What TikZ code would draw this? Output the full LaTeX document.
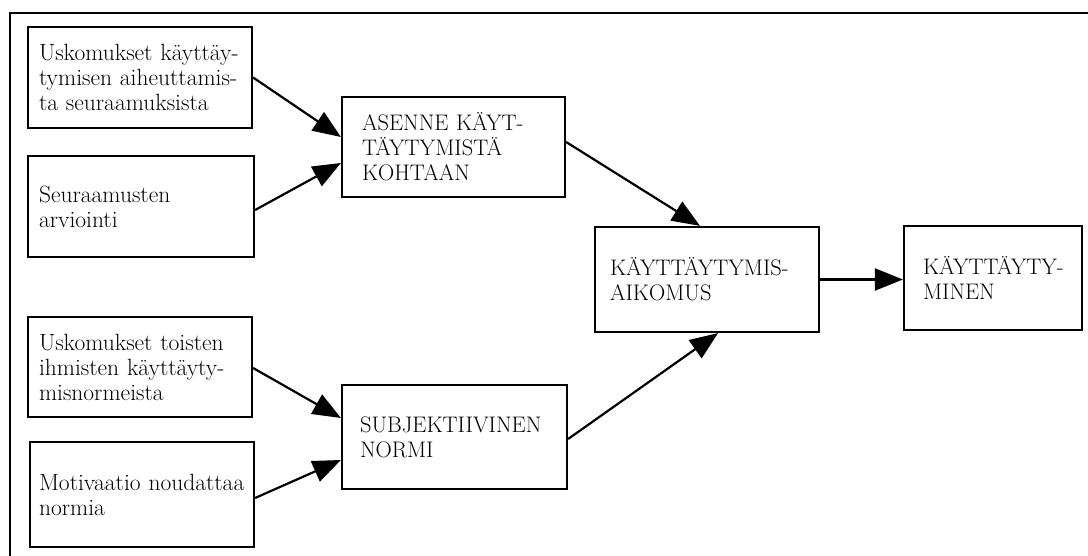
\documentclass[tikz,border=0pt]{standalone}
\usetikzlibrary{arrows.meta,calc}
\begin{document}
\begin{tikzpicture}[x=1pt,y=-1pt,
  box/.style={draw, line width=2.2pt, rectangle, align=left, inner ysep=0pt},
  lc/.style={box, font=\fontsize{23.5}{25}\selectfont},
  uc/.style={box, font=\fontsize{22.5}{25}\selectfont},
  arr/.style={line width=2.2pt, -{Triangle[length=28pt,width=22pt]}},
  frame/.style={line width=2.6pt}]
\useasboundingbox (0,0) rectangle (1088,556);
% outer frame (only top and left edges visible)
\coordinate (fbl) at (10,556);
\coordinate (ftl) at (10,13);
\coordinate (ftr) at (1088,13);
\draw[frame] (fbl) -- (ftl) -- (ftr);
% boxes
\node[lc, minimum width=224pt, minimum height=101pt, text width=202pt, inner xsep=11pt] (b1) at (140,77.5)
  {\mbox{Uskomukset käyttäy-}\\\mbox{tymisen aiheuttamis-}\\\mbox{ta seuraamuksista}};
\node[lc, minimum width=226pt, minimum height=101pt, text width=204pt, inner xsep=11pt] (b2) at (141,206.5)
  {Seuraamusten\\arviointi};
\node[lc, minimum width=224pt, minimum height=100pt, text width=202pt, inner xsep=11pt] (b3) at (140,367)
  {\mbox{Uskomukset toisten}\\\mbox{ihmisten käyttäyty-}\\misnormeista};
\node[lc, minimum width=224pt, minimum height=105pt, text width=206pt, inner xsep=9pt] (b4) at (142,494.5)
  {\mbox{Motivaatio noudattaa}\\normia};
\node[uc, minimum width=223pt, minimum height=100pt, text width=183pt, inner xsep=20pt] (asenne) at (453.5,147)
  {\mbox{ASENNE KÄYT-}\\\mbox{TÄYTYMISTÄ}\\KOHTAAN};
\node[uc, minimum width=225pt, minimum height=104pt, text width=189pt, inner xsep=18pt] (subj) at (454.5,437)
  {\mbox{SUBJEKTIIVINEN}\\NORMI};
\node[uc, minimum width=224pt, minimum height=105pt, text width=194pt, inner xsep=15pt] (aik) at (707,279.5)
  {\mbox{KÄYTTÄYTYMIS-}\\AIKOMUS};
\node[uc, minimum width=178pt, minimum height=104pt, text width=140pt, inner xsep=19pt] (kay) at (993,278)
  {\mbox{KÄYTTÄYTY-}\\MINEN};
% connectors
\draw[arr] (b1.east) -- ($(asenne.west)+(0,-10)$);
\draw[arr] ($(b2.east)+(0,3.5)$) -- ($(asenne.west)+(0,16)$);
\draw[arr] ($(asenne.east)+(0,-5)$) -- ($(aik.north)+(-7,0)$);
\draw[arr] ($(b3.east)+(0,1)$) -- ($(subj.west)+(0,-19)$);
\draw[arr] ($(b4.east)+(0,3.5)$) -- ($(subj.west)+(0,23)$);
\draw[arr] ($(subj.east)+(0,2)$) -- ($(aik.south)+(11,0)$);
\draw[arr] (aik.east) -- (kay.west |- aik.east);
\end{tikzpicture}
\end{document}
